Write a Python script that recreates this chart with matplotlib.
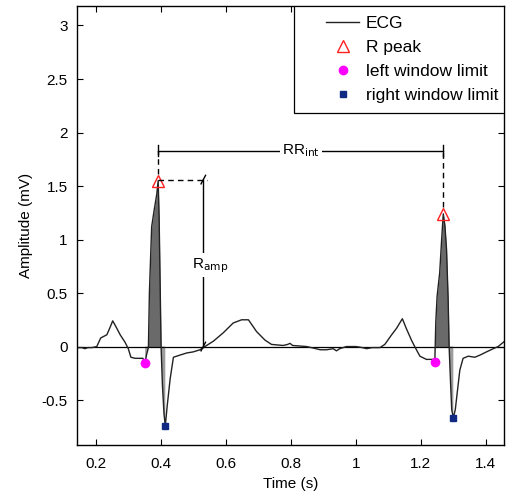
import numpy as np
import matplotlib
matplotlib.use('Agg')
import matplotlib.pyplot as plt
from matplotlib.patches import Rectangle

plt.rcParams['font.family'] = ['Liberation Sans', 'DejaVu Sans']

# ECG trace (s, mV)
time = [0.142, 0.156, 0.165, 0.175, 0.187, 0.202, 0.214, 0.233, 0.243, 0.251,
        0.262, 0.274, 0.289, 0.299, 0.307, 0.320, 0.335, 0.344, 0.351,
        0.355, 0.361, 0.364, 0.371, 0.379, 0.387, 0.391, 0.394, 0.397,
        0.400, 0.404, 0.409, 0.413, 0.419, 0.428, 0.438, 0.448, 0.458,
        0.479, 0.499, 0.520, 0.535, 0.561, 0.592, 0.622, 0.648, 0.669,
        0.694, 0.720, 0.740, 0.776, 0.790, 0.797, 0.805, 0.848, 0.870,
        0.890, 0.910, 0.930, 0.940, 0.950, 0.971, 1.000, 1.020, 1.033,
        1.050, 1.074, 1.089, 1.110, 1.125, 1.143, 1.155, 1.171, 1.181,
        1.197, 1.217, 1.236, 1.243, 1.246, 1.250, 1.258, 1.264, 1.269,
        1.274, 1.279, 1.284, 1.287, 1.291, 1.295, 1.300, 1.306, 1.312,
        1.320, 1.330, 1.346, 1.366, 1.382, 1.402, 1.423, 1.438, 1.458]
ecg = [-0.01, -0.01, -0.02, -0.01, -0.01, 0.00, 0.08, 0.11, 0.18, 0.24,
       0.18, 0.11, 0.04, -0.02, -0.10, -0.11, -0.11, -0.11, -0.15,
       -0.08, -0.01, 0.50, 1.12, 1.28, 1.43, 1.55, 1.20, 0.60,
       0.00, -0.35, -0.63, -0.74, -0.55, -0.30, -0.10, -0.09, -0.08,
       -0.06, -0.05, -0.03, 0.00, 0.05, 0.13, 0.22, 0.25, 0.25,
       0.14, 0.06, 0.02, 0.01, 0.02, 0.03, 0.01, 0.00, -0.015,
       -0.03, -0.03, -0.02, -0.04, -0.02, 0.00, 0.00, -0.01, -0.02,
       -0.01, -0.01, 0.02, 0.11, 0.17, 0.26, 0.17, 0.06, 0.00,
       -0.09, -0.12, -0.12, -0.14, 0.23, 0.47, 0.69, 1.00, 1.24,
       1.13, 0.91, 0.44, 0.00, -0.31, -0.59, -0.665, -0.59, -0.43,
       -0.22, -0.11, -0.09, -0.10, -0.08, -0.05, -0.02, 0.00, 0.05]

peak_t = [0.391, 1.269]
peak_v = [1.55, 1.24]
left_t = [0.351, 1.243]
left_v = [-0.15, -0.14]
right_t = [0.413, 1.300]
right_v = [-0.74, -0.665]

t = np.array(time)
v = np.array(ecg)

fig = plt.figure(figsize=(5.08, 4.97), dpi=100)
ax = fig.add_axes([77.3 / 508, 1 - 445 / 497, (504 - 77.3) / 508, (445 - 5.7) / 497])

# shaded QRS areas between window limits
for lt, rt in zip(left_t, right_t):
    m = (t >= lt) & (t <= rt)
    ax.fill_between(t[m], v[m], 0, where=v[m] >= 0, color='#6a6a6a', lw=0, interpolate=True)
    ax.fill_between(t[m], v[m], 0, where=v[m] <= 0, color='#9c9c9c', lw=0, interpolate=True)

ax.axhline(0, color='k', lw=0.9)
ax.plot(t, v, color='#222222', lw=1.0, label='ECG')
ax.plot(peak_t, peak_v, '^', ms=8, mfc='none', mec='#ff2020', mew=1.0, label='R peak')
ax.plot(left_t, left_v, 'o', ms=6, color='#ff00ff', label='left window limit')
ax.plot(right_t, right_v, 's', ms=5, color='#102a83', label='right window limit')

# RR interval
rr_y = 1.83
ax.plot(peak_t, [rr_y, rr_y], color='k', lw=1.0)
for pt, pv in zip(peak_t, peak_v):
    ax.plot([pt, pt], [rr_y - 0.05, rr_y + 0.05], color='k', lw=1.0)
    ax.plot([pt, pt], [pv + 0.06, rr_y], color='k', lw=1.0, ls=(0, (4, 3)))
ax.text(np.mean(peak_t), rr_y, r'RR$_{\rm int}$', ha='center', va='center', fontsize=11,
        bbox=dict(fc='white', ec='none', pad=1.5))

# R amplitude
amp_x = 0.53
ax.plot([peak_t[0], amp_x + 0.012], [1.56, 1.56], color='k', lw=1.0, ls=(0, (4, 3)))
ax.plot([amp_x, amp_x], [0, 1.56], color='k', lw=1.0)
for yy in [0, 1.56]:
    ax.plot([amp_x - 0.007, amp_x + 0.007], [yy - 0.04, yy + 0.04], color='k', lw=1.0)
ax.text(0.551, 0.76, r'R$_{\rm amp}$', ha='center', va='center', fontsize=11,
        bbox=dict(fc='white', ec='none', pad=2))

ax.set_xlim(0.142, 1.456)
ax.set_ylim(-0.92, 3.185)
ax.set_xticks([0.2, 0.4, 0.6, 0.8, 1.0, 1.2, 1.4])
ax.set_xticklabels(['0.2', '0.4', '0.6', '0.8', '1', '1.2', '1.4'])
ax.set_yticks([-0.5, 0, 0.5, 1, 1.5, 2, 2.5, 3])
ax.set_yticklabels(['-0.5', '0', '0.5', '1', '1.5', '2', '2.5', '3'])
ax.tick_params(direction='in', top=True, right=True, labelsize=11, length=4, width=0.8)
ax.tick_params(axis='x', pad=9)
ax.tick_params(axis='y', pad=7)
ax.set_xlabel('Time (s)', fontsize=11, labelpad=4)
ax.set_ylabel('Amplitude (mV)', fontsize=11, labelpad=6)
for s in ax.spines.values():
    s.set_linewidth(1.0)

# legend box drawn separately (MATLAB-style wide left margin)
ax.add_patch(Rectangle((0.508, 0.756), 0.492, 0.244, transform=ax.transAxes,
                       fc='white', ec='k', lw=0.9, zorder=4))
leg = ax.legend(loc='upper left', bbox_to_anchor=(0.583, 0.976), fontsize=12.5,
                frameon=False, borderaxespad=0, borderpad=0, handlelength=1.9,
                labelspacing=0.5, handletextpad=0.4)
leg.set_zorder(5)

fig.savefig('out.png', dpi=100)
